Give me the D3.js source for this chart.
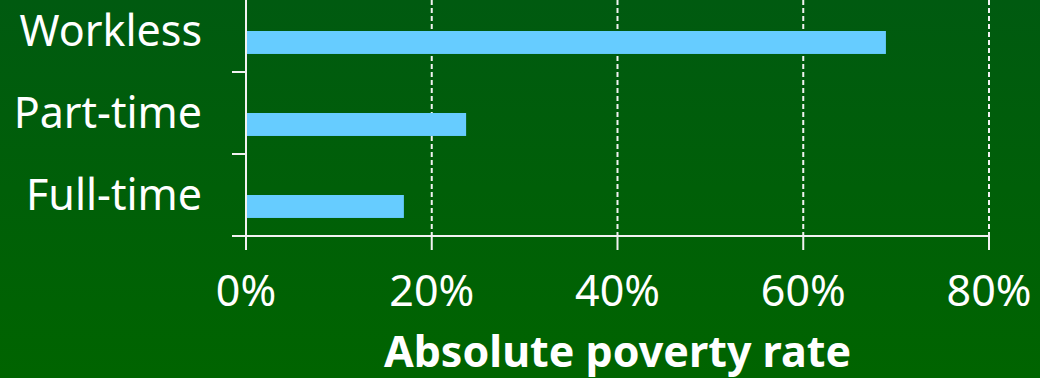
<!DOCTYPE html>
<html>
<head>
<meta charset="utf-8">
<script src="https://cdn.jsdelivr.net/npm/d3@7"></script>
<style>
  html, body { margin: 0; padding: 0; background: #005e0e; }
  svg { display: block; }
  text { font-family: "Noto Sans", "Open Sans", sans-serif; fill: #fff; }
</style>
</head>
<body>
<div id="chart"></div>
<script>
// data
const categories = ["Workless", "Part-time", "Full-time"];
const povertyRate = [68.9, 23.7, 17.0];
const xTicks = [0, 20, 40, 60, 80];
const xTitle = "Absolute poverty rate";

const width = 1040, height = 378;
const margin = {left: 246, right: 51, top: -10, bottom: 142};

const svg = d3.select("#chart").append("svg")
    .attr("width", width)
    .attr("height", height);

// background gradient
const grad = svg.append("defs").append("linearGradient")
    .attr("id", "bg").attr("x1", 0).attr("y1", 0).attr("x2", 0).attr("y2", 1);
grad.append("stop").attr("offset", "0%").attr("stop-color", "#005a10");
grad.append("stop").attr("offset", "100%").attr("stop-color", "#006400");
svg.append("rect").attr("width", width).attr("height", height).attr("fill", "url(#bg)");

const x = d3.scaleLinear()
    .domain([0, 80])
    .range([margin.left, width - margin.right]);

const y = d3.scaleBand()
    .domain(categories)
    .range([margin.top, height - margin.bottom])
    .padding(0);

const axisY = y.range()[1];
const tickLen = 14;
const lineColor = "#f2f2f2";

// dashed gridlines
svg.append("g").selectAll("line")
    .data(xTicks.filter(d => d > 0))
    .enter().append("line")
    .attr("x1", d => x(d)).attr("x2", d => x(d))
    .attr("y1", 0).attr("y2", axisY)
    .attr("stroke", lineColor)
    .attr("stroke-width", 2)
    .attr("stroke-dasharray", "5,3");

// bars
const data = categories.map((c, i) => ({cat: c, value: povertyRate[i]}));
svg.append("g").selectAll("rect")
    .data(data)
    .enter().append("rect")
    .attr("x", x(0))
    .attr("y", d => y(d.cat) + y.bandwidth() * 0.5)
    .attr("width", d => x(d.value) - x(0))
    .attr("height", y.bandwidth() * 0.28)
    .attr("fill", "#66ccff");

// x axis line + ticks
svg.append("line")
    .attr("x1", x(0) - tickLen).attr("x2", x(80))
    .attr("y1", axisY).attr("y2", axisY)
    .attr("stroke", lineColor).attr("stroke-width", 2);
svg.append("g").selectAll("line")
    .data(xTicks)
    .enter().append("line")
    .attr("x1", d => x(d)).attr("x2", d => x(d))
    .attr("y1", axisY).attr("y2", axisY + tickLen)
    .attr("stroke", lineColor).attr("stroke-width", 2);

// y axis line + ticks at band boundaries
svg.append("line")
    .attr("x1", x(0)).attr("x2", x(0))
    .attr("y1", 0).attr("y2", axisY + tickLen)
    .attr("stroke", lineColor).attr("stroke-width", 2);
svg.append("g").selectAll("line")
    .data(categories)
    .enter().append("line")
    .attr("x1", x(0) - tickLen).attr("x2", x(0))
    .attr("y1", d => y(d)).attr("y2", d => y(d))
    .attr("stroke", lineColor).attr("stroke-width", 2);

// category labels
svg.append("g").selectAll("text")
    .data(categories)
    .enter().append("text")
    .attr("x", x(0) - 44)
    .attr("y", d => y(d) + y.bandwidth() / 2)
    .attr("dy", "0.36em")
    .attr("text-anchor", "end")
    .attr("font-size", 43)
    .text(d => d);

// x tick labels
svg.append("g").selectAll("text")
    .data(xTicks)
    .enter().append("text")
    .attr("x", d => x(d))
    .attr("y", 306)
    .attr("text-anchor", "middle")
    .attr("font-size", 43)
    .text(d => d + "%");

// axis title
svg.append("text")
    .attr("x", (x(0) + x(80)) / 2)
    .attr("y", 367)
    .attr("text-anchor", "middle")
    .attr("font-size", 43)
    .attr("font-weight", "bold")
    .text(xTitle);
</script>
</body>
</html>
